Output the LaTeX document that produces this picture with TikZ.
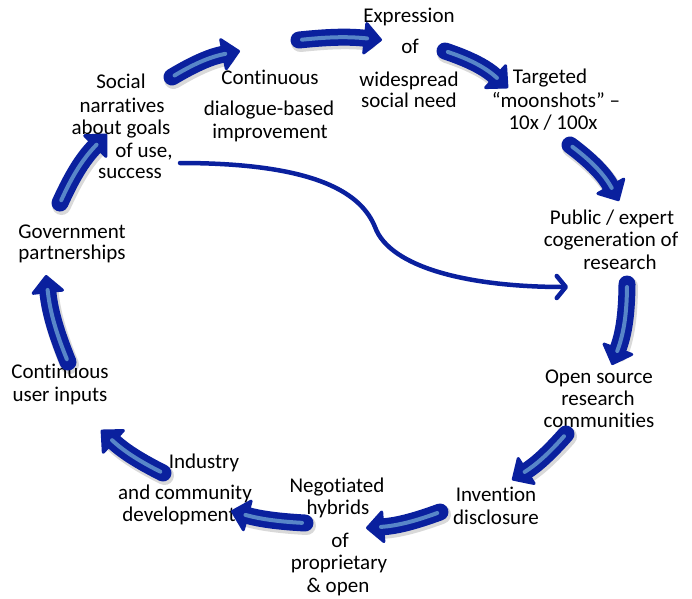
\documentclass[tikz,border=0pt]{standalone}
\usepackage{fontspec}
\setmainfont[RawFeature={-liga;-clig;-calt;-dlig;-hlig}]{Carlito}
\usetikzlibrary{arrows.meta,calc}
\definecolor{dk}{RGB}{10,32,158}
\definecolor{lt}{RGB}{88,134,200}
\tikzset{
  lbl/.style={inner sep=0pt, text height=14pt, text depth=4pt, font=\fontsize{21}{24}\selectfont},
  blkshadow/.style={draw=black, opacity=0.15, line width=19pt, line cap=round},
  blk/.style={draw=dk, line width=17pt, line cap=round, line join=round,
    -{Triangle[length=19pt,width=36pt,line width=3pt,round]}},
  blkin/.style={draw=lt, line width=4pt, line cap=round, shorten >=15pt, shorten <=3pt},
  thin/.style={draw=dk, line width=4.5pt, line cap=round,
    -{Straight Barb[length=9pt,width=22pt,round]}}
}
\newcommand\myblockarrow[3]{%
  \draw[blkshadow, shorten >=16pt] ($(#1)+(1.5,-2.5)$) to[bend left=#3] ($(#2)+(1.5,-2.5)$);
  \draw[blk] (#1) to[bend left=#3] (#2);
  \draw[blkin] (#1) to[bend left=#3] (#2);
}
\begin{document}
\begin{tikzpicture}[x=1pt,y=1pt]
\useasboundingbox (0,0) rectangle (692,-598);
% labels
\node[lbl] (e1) at (409,-17) {Expression};
\node[lbl] (e2) at (410,-48) {of};
\node[lbl] (e3) at (409,-81) {widespread};
\node[lbl] (e4) at (409,-102) {social need};
\node[lbl] (t1) at (550,-78) {Targeted};
\node[lbl] (t2) at (556,-102) {“moonshots” –};
\node[lbl] (t3) at (553,-124) {10x / 100x};
\node[lbl] (p1) at (612,-219) {Public / expert};
\node[lbl] (p2) at (611,-241) {cogeneration of};
\node[lbl] (p3) at (620,-264) {research};
\node[lbl] (o1) at (599,-378) {Open source};
\node[lbl] (o2) at (598,-400) {research};
\node[lbl] (o3) at (599,-422) {communities};
\node[lbl] (i1) at (496,-496) {Invention};
\node[lbl] (i2) at (496,-519) {disclosure};
\node[lbl] (n1) at (337,-487) {Negotiated};
\node[lbl] (n2) at (338,-509) {hybrids};
\node[lbl] (n3) at (340,-542) {of};
\node[lbl] (n4) at (339,-564) {proprietary};
\node[lbl] (n5) at (338,-587) {\& open};
\node[lbl] (d1) at (204,-463) {Industry};
\node[lbl] (d2) at (185,-494) {and community};
\node[lbl] (d3) at (179,-516) {development};
\node[lbl] (u1) at (60,-373) {Continuous};
\node[lbl] (u2) at (60,-396) {user inputs};
\node[lbl] (g1) at (72,-233) {Government};
\node[lbl] (g2) at (72,-254) {partnerships};
\node[lbl] (s1) at (121,-83) {Social};
\node[lbl] (s2) at (122,-107) {narratives};
\node[lbl] (s3) at (121,-129) {about goals};
\node[lbl] (s4) at (144,-152) {of use,};
\node[lbl] (s5) at (130,-173) {success};
\node[lbl] (c1) at (270,-79) {Continuous};
\node[lbl] (c2) at (269,-110) {dialogue-based};
\node[lbl] (c3) at (270,-133) {improvement};
% arrow end points
\coordinate (a1s) at (172,-77);  \coordinate (a1e) at (240,-51);
\coordinate (a2s) at (299,-40);  \coordinate (a2e) at (382,-40);
\coordinate (a3s) at (445,-51);  \coordinate (a3e) at (508,-88);
\coordinate (a4s) at (570,-145); \coordinate (a4e) at (619,-201);
\coordinate (a5s) at (627,-284); \coordinate (a5e) at (612,-365);
\coordinate (a6s) at (566,-434); \coordinate (a6e) at (512,-480);
\coordinate (a7s) at (440,-512); \coordinate (a7e) at (366,-528);
\coordinate (a8s) at (305,-523); \coordinate (a8e) at (231,-511);
\coordinate (a9s) at (163,-473); \coordinate (a9e) at (101,-430);
\coordinate (a10s) at (68,-362); \coordinate (a10e) at (46,-275);
\coordinate (a11s) at (60,-203); \coordinate (a11e) at (107,-134);
\myblockarrow{a1s}{a1e}{10}
\myblockarrow{a2s}{a2e}{6}
\myblockarrow{a3s}{a3e}{12}
\myblockarrow{a4s}{a4e}{12}
\myblockarrow{a5s}{a5e}{10}
\myblockarrow{a6s}{a6e}{8}
\myblockarrow{a7s}{a7e}{8}
\myblockarrow{a8s}{a8e}{6}
\myblockarrow{a9s}{a9e}{8}
\myblockarrow{a10s}{a10e}{8}
\myblockarrow{a11s}{a11e}{10}
% long thin arrow
\coordinate (ls) at (180,-163);
\coordinate (lm) at (375,-227);
\coordinate (le) at (568,-287);
\draw[thin] (ls) .. controls (320,-163) and (362,-195) .. (lm)
  .. controls (390,-268) and (470,-287) .. (le);
\end{tikzpicture}
\end{document}
